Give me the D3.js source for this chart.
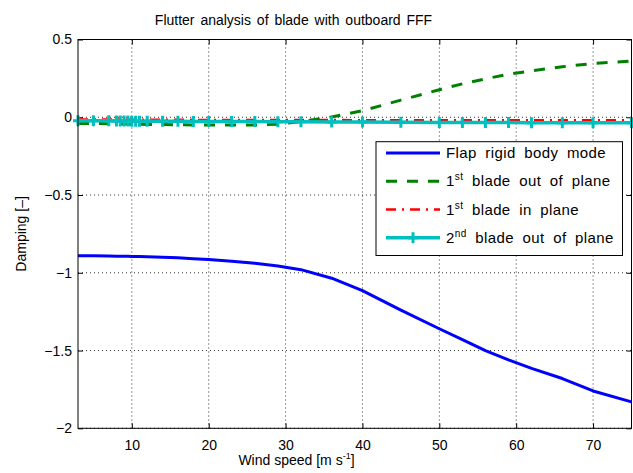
<!DOCTYPE html>
<html><head><meta charset="utf-8">
<script src="https://cdn.jsdelivr.net/npm/d3@7"></script>
<style>body{margin:0;background:#fff}svg{display:block;font-family:"Liberation Sans",Arial,sans-serif}</style>
</head><body><svg id="c" width="633" height="473"></svg>
<script>
const windSpeed = [3,5,7,8,8.5,9,9.5,10,10.5,11,12,14,16,18,20,23,26,29,32,36,40,45,50,53,56,59,62,66,70,75];
const flapRigid = [-0.890,-0.891,-0.892,-0.893,-0.893,-0.894,-0.894,-0.895,-0.895,-0.896,-0.897,-0.900,-0.904,-0.909,-0.915,-0.926,-0.939,-0.957,-0.980,-1.035,-1.115,-1.240,-1.360,-1.430,-1.500,-1.560,-1.615,-1.680,-1.760,-1.830];
const bladeOutOfPlane1 = [-0.040,-0.040,-0.042,-0.043,-0.043,-0.044,-0.044,-0.045,-0.045,-0.045,-0.046,-0.047,-0.048,-0.049,-0.050,-0.050,-0.050,-0.045,-0.028,0.002,0.042,0.110,0.177,0.215,0.247,0.277,0.298,0.325,0.345,0.362];
const bladeInPlane1 = [-0.015,-0.015,-0.015,-0.015,-0.015,-0.015,-0.015,-0.016,-0.016,-0.016,-0.016,-0.016,-0.016,-0.017,-0.017,-0.017,-0.017,-0.018,-0.018,-0.018,-0.019,-0.019,-0.019,-0.020,-0.020,-0.020,-0.020,-0.020,-0.020,-0.020];
const bladeOutOfPlane2 = [-0.022,-0.023,-0.023,-0.024,-0.024,-0.024,-0.024,-0.025,-0.025,-0.025,-0.025,-0.026,-0.026,-0.027,-0.027,-0.028,-0.028,-0.029,-0.029,-0.030,-0.031,-0.032,-0.033,-0.033,-0.034,-0.034,-0.035,-0.035,-0.035,-0.035];
const xTicks = [10,20,30,40,50,60,70];
const yTicks = [-2,-1.5,-1,-0.5,0,0.5];
const yTickLabels = ["\u22122","\u22121.5","\u22121","\u22120.5","0","0.5"];

const svg = d3.select("#c");
const L=78, R=631.5, T=39.5, B=428.3;
const x = d3.scaleLinear().domain([3,75]).range([L,R]);
const y = d3.scaleLinear().domain([-2,0.5]).range([B,T]);

// grid
const g = svg.append("g");
g.selectAll(".gx").data(xTicks).enter().append("line")
 .attr("x1",d=>x(d)).attr("x2",d=>x(d)).attr("y1",T).attr("y2",B)
 .attr("stroke","#333").attr("stroke-width",1).attr("stroke-dasharray","1,3");
g.selectAll(".gy").data(yTicks).enter().append("line")
 .attr("y1",d=>y(d)).attr("y2",d=>y(d)).attr("x1",L).attr("x2",R)
 .attr("stroke","#333").attr("stroke-width",1).attr("stroke-dasharray","1,3");

const fs = 14;
// axes with inward ticks
const axB = d3.axisBottom(x).tickValues(xTicks).tickSize(-5).tickPadding(12).tickFormat(d3.format("d"));
const axT = d3.axisTop(x).tickValues(xTicks).tickSize(-5).tickFormat("");
const axLft = d3.axisLeft(y).tickValues(yTicks).tickSize(-5).tickPadding(6).tickFormat((d,i)=>yTickLabels[i]);
const axRt = d3.axisRight(y).tickValues(yTicks).tickSize(-5).tickFormat("");
function style(sel){sel.select(".domain").remove();sel.selectAll("line").attr("stroke","#000");sel.selectAll("text").attr("fill","#000").style("font-size",fs+"px").style("font-family","Liberation Sans, Arial, sans-serif");}
svg.append("g").attr("transform",`translate(0,${B})`).call(axB).call(style);
svg.append("g").attr("transform",`translate(0,${T})`).call(axT).call(style);
svg.append("g").attr("transform",`translate(${L},0)`).call(axLft).call(style);
svg.append("g").attr("transform",`translate(${R},0)`).call(axRt).call(style);

const line = vals => d3.line().x((d,i)=>x(windSpeed[i])).y(d=>y(d))(vals);
const series = [
 {name:"Flap rigid body mode", vals:flapRigid, color:"#0000ff", dash:null, w:3},
 {name:"1st blade out of plane", vals:bladeOutOfPlane1, color:"#008000", dash:"11,10", w:3},
 {name:"1st blade in plane", vals:bladeInPlane1, color:"#ff0000", dash:"10,6,2,6", w:2.5},
 {name:"2nd blade out of plane", vals:bladeOutOfPlane2, color:"#00bfbf", dash:null, w:3.5, marker:true}
];
const pl = svg.append("g");
series.forEach(s=>{
  pl.append("path").attr("d",line(s.vals)).attr("fill","none").attr("stroke",s.color)
    .attr("stroke-width",s.w).attr("stroke-dasharray",s.dash).attr("stroke-linejoin","round");
  if(s.marker){
    windSpeed.forEach((w,i)=>{
      const cx=x(w), cy=y(s.vals[i]);
      pl.append("path").attr("d",`M${cx-5},${cy}H${cx+5}M${cx},${cy-5.5}V${cy+5.5}`)
        .attr("stroke",s.color).attr("stroke-width",3).attr("fill","none");
    });
  }
});

// box
svg.append("rect").attr("x",L).attr("y",T).attr("width",R-L).attr("height",B-T)
  .attr("fill","none").attr("stroke","#000").attr("stroke-width",1);

// title & labels
svg.append("text").attr("x",293.5).attr("y",25).attr("text-anchor","middle").style("font-size",fs+"px").style("word-spacing","2px").text("Flutter analysis of blade with outboard FFF");
const xl = svg.append("text").attr("x",296.5).attr("y",465).attr("text-anchor","middle").style("font-size",fs+"px");
xl.append("tspan").text("Wind speed [m s");
xl.append("tspan").attr("dy",-6).style("font-size","9px").text("-1");
xl.append("tspan").attr("dy",6).text("]");
svg.append("text").attr("transform",`translate(26,${(T+B)/2}) rotate(-90)`).attr("text-anchor","middle").style("font-size",fs+"px").text("Damping [\u2013]");

// legend
const lg = svg.append("g");
lg.append("rect").attr("x",376).attr("y",141.7).attr("width",246.5).attr("height",113.8).attr("fill","#fff").attr("stroke","#000").attr("stroke-width",1);
const rows=[153,181.3,209.5,237.8];
const labels=[["Flap rigid body mode"],["1","st"," blade out of plane"],["1","st"," blade in plane"],["2","nd"," blade out of plane"]];
series.forEach((s,i)=>{
  const ry=rows[i];
  lg.append("line").attr("x1",386).attr("x2",440).attr("y1",ry).attr("y2",ry).attr("stroke",s.color).attr("stroke-width",s.w).attr("stroke-dasharray",s.dash);
  if(s.marker) lg.append("path").attr("d",`M408,${ry}H418M413,${ry-5.5}V${ry+5.5}`).attr("stroke",s.color).attr("stroke-width",3);
  const t=lg.append("text").attr("x",446).attr("y",ry+5).style("font-size","15px").style("word-spacing","4px").style("letter-spacing","0.4px");
  const p=labels[i];
  if(p.length===1) t.text(p[0]);
  else { t.append("tspan").text(p[0]); t.append("tspan").attr("dy",-6).style("font-size","10px").text(p[1]); t.append("tspan").attr("dy",6).text(p[2]); }
});
</script></body></html>
